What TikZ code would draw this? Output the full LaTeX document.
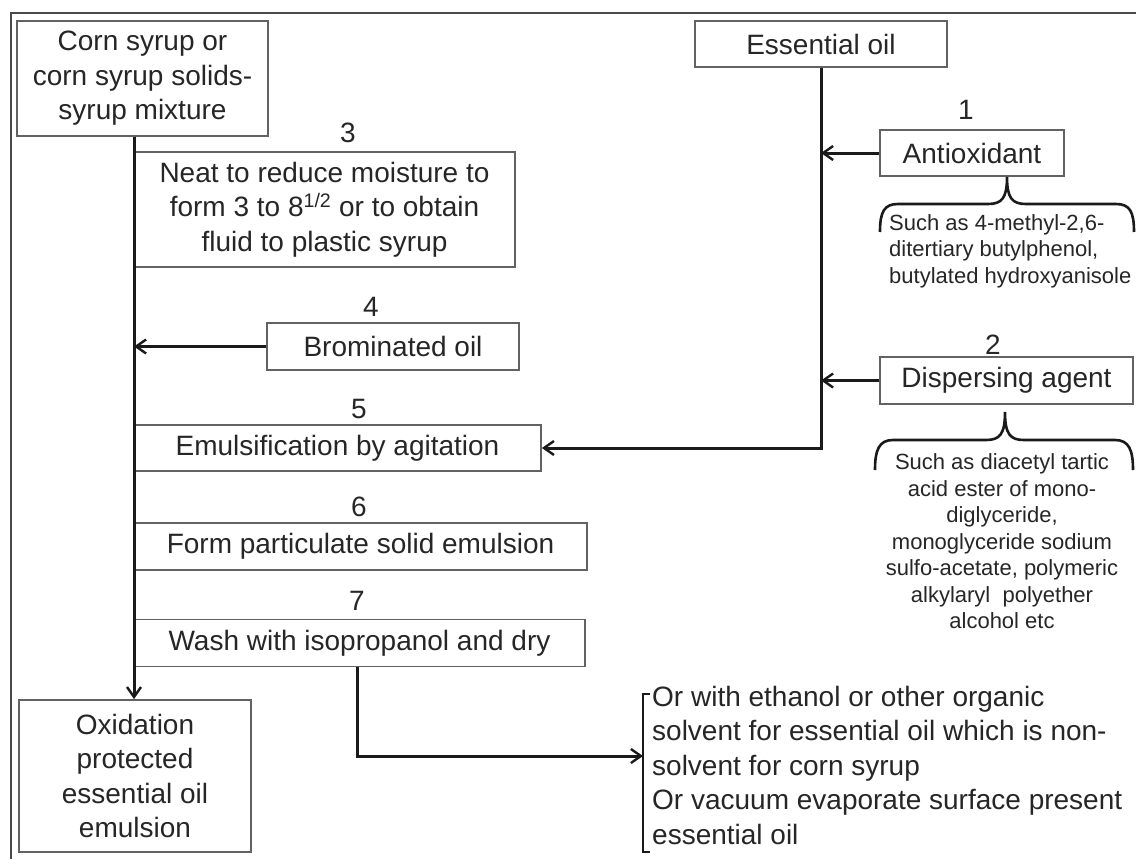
\documentclass[tikz,border=0pt]{standalone}
\usepackage{fontspec}
\setmainfont{Liberation Sans}
\usetikzlibrary{arrows.meta,calc}
\definecolor{txt}{HTML}{262626}
\definecolor{boxc}{HTML}{626262}
\definecolor{linec}{HTML}{1A1A1A}
\definecolor{framec}{HTML}{4A4A4A}
\begin{document}
\begin{tikzpicture}[x=1pt,y=-1pt,
  every node/.style={text=txt, font=\fontsize{28}{34.5}\selectfont, inner sep=0pt},
  box/.style={draw=boxc, line width=1.8pt, align=center},
  small/.style={font=\fontsize{22}{26.5}\selectfont},
  conn/.style={draw=linec, line width=3pt},
  arr/.style={conn, -{Straight Barb[length=10pt,width=14pt,line width=2.4pt]}},
  brc/.style={draw=linec, line width=2.6pt}]
\useasboundingbox (0,0) rectangle (1136,859);
\fill[white] (0,0) rectangle (1136,859);
% frame
\draw[draw=framec, line width=2.4pt] (1136,13) -- (11,13) -- (11,859);

% boxes
\node[box, minimum width=251pt, minimum height=115pt] (corn) at (142.5,78.5)
  {Corn syrup or\\corn syrup solids-\\syrup mixture};
\node[box, minimum width=252pt, minimum height=46pt] (ess) at (821,44) {Essential oil};
\node[box, minimum width=381pt, minimum height=115pt] (s3) at (324.5,209.5)
  {Neat to reduce moisture to\\form 3 to 8\textsuperscript{1/2} or to obtain\\fluid to plastic syrup};
\node[box, minimum width=252pt, minimum height=47pt] (brom) at (393,346.5) {Brominated oil};
\node[box, minimum width=407pt, minimum height=46pt] (s5) at (337.5,448) {Emulsification by agitation};
\node[box, minimum width=453pt, minimum height=47pt] (s6) at (360.5,546.5) {Form particulate solid emulsion};
\node[box, minimum width=451pt, minimum height=47pt] (s7) at (359.5,643) {Wash with isopropanol and dry};
\node[box, minimum width=184pt, minimum height=46pt] (anti) at (972,153) {Antioxidant};
\node[box, minimum width=253pt, minimum height=47pt] (disp) at (1006.5,380.5) {Dispersing agent};
\node[box, minimum width=232pt, minimum height=152pt] (oxid) at (135,776)
  {Oxidation\\protected\\essential oil\\emulsion};

% step numbers
\node (n1) at (966,110) {1};
\node (n2) at (993,345) {2};
\node (n3) at (348,133) {3};
\node (n4) at (371,307) {4};
\node (n5) at (359,409) {5};
\node (n6) at (359,507) {6};
\node (n7) at (357,601) {7};

% descriptive texts
\node[small, align=left, anchor=west] (antitxt) at (889,251)
  {Such as 4-methyl-2,6-\\ditertiary butylphenol,\\butylated hydroxyanisole};
\node[small, align=center] (disptxt) at (1002,541.5)
  {Such as diacetyl tartic\\acid ester of mono-\\diglyceride,\\monoglyceride sodium\\sulfo-acetate, polymeric\\alkylaryl\ \ polyether\\alcohol etc};
\node[align=left, anchor=west] (alt) at (652,765)
  {Or with ethanol or other organic\\solvent for essential oil which is non-\\solvent for corn syrup\\Or vacuum evaporate surface present\\essential oil};

% helper coordinates
\coordinate (mx) at (134,0);
\coordinate (ex) at (821,0);
\coordinate (brk) at (643,756);
\coordinate (wx) at (357,0);

% main line
\draw[arr] (corn.south -| mx) -- (oxid.north -| mx);
% brominated oil into main line
\draw[arr] (brom.west) -- (brom.west -| mx);
% essential oil line to emulsification
\draw[arr] (ess.south) |- (s5.east);
% additives into essential oil line
\draw[arr] (anti.west) -- (anti.west -| ex);
\draw[arr] (disp.west) -- (disp.west -| ex);
% wash to alternatives
\draw[arr] (s7.south -| wx) |- (brk);

% bracket for alternatives
\draw[brc, line width=1.8pt] (650,694) -- (643,694) -- (643,852) -- (650,852);

% braces
\draw[brc] (880,232) .. controls (880,212) and (884,204) .. (898,204) -- (988,204)
  .. controls (1002,204) and (1007,198) .. (1007,177)
  .. controls (1007,198) and (1012,204) .. (1026,204) -- (1116,204)
  .. controls (1130,204) and (1134,212) .. (1134,232);
\draw[brc] (875,470) .. controls (875,450) and (879,440) .. (893,440) -- (986,440)
  .. controls (1000,440) and (1005,434) .. (1005,412)
  .. controls (1005,434) and (1010,440) .. (1024,440) -- (1115,440)
  .. controls (1129,440) and (1133,450) .. (1133,470);
\end{tikzpicture}
\end{document}
